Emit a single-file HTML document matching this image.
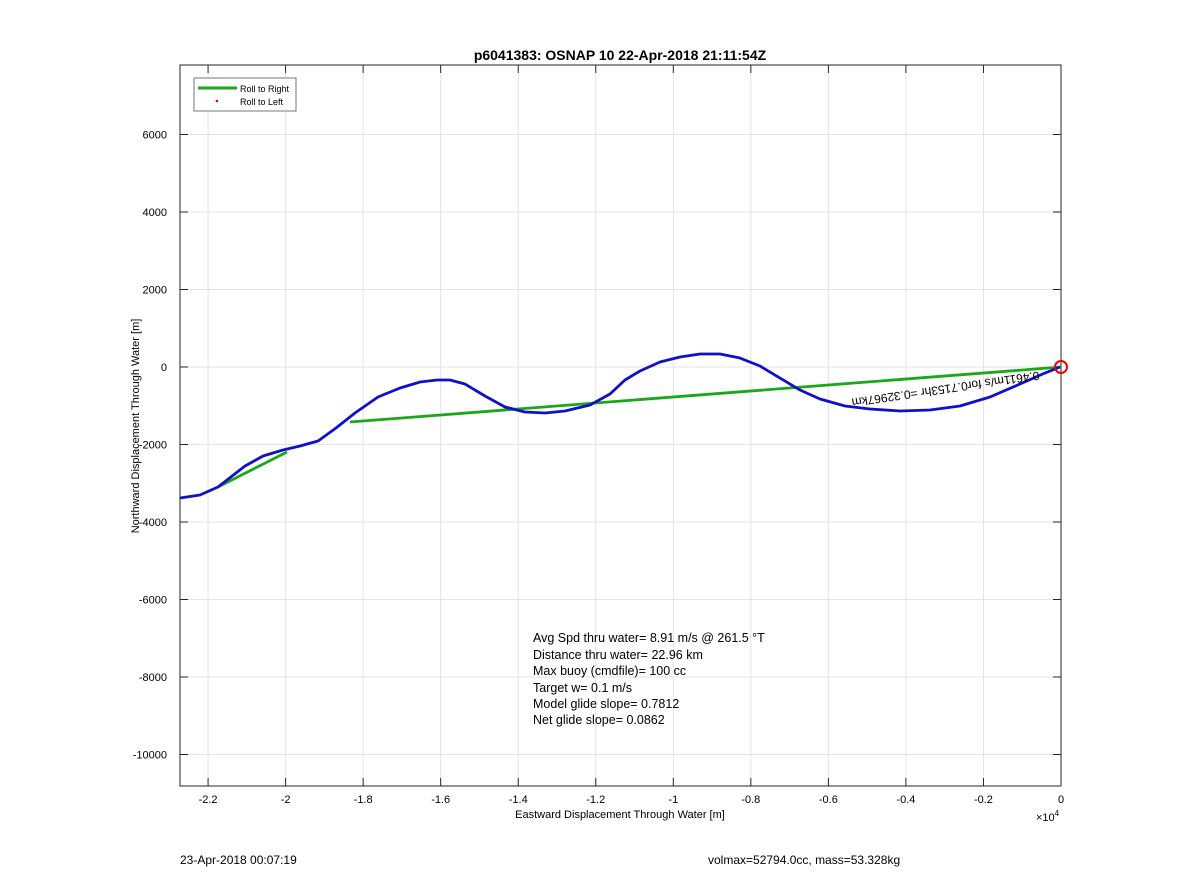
<!DOCTYPE html>
<html><head><meta charset="utf-8"><style>
body{margin:0;background:#fff;font-family:"Liberation Sans",Arial,sans-serif}
svg text{font-family:"Liberation Sans",Arial,sans-serif}
</style></head><body>
<svg id="chart" width="1200" height="885" xmlns="http://www.w3.org/2000/svg">
<rect width="1200" height="885" fill="#fff"/>
<g id="grid"></g>
<g id="axes"></g>
<g id="series"></g>
<text x="620" y="60" text-anchor="middle" font-size="14" font-weight="bold">p6041383: OSNAP 10 22-Apr-2018 21:11:54Z</text>
<text x="620" y="818" text-anchor="middle" font-size="11">Eastward Displacement Through Water [m]</text>
<text x="1036" y="821" font-size="11">×10<tspan dy="-5" font-size="8">4</tspan></text>
<text transform="translate(139,426) rotate(-90)" text-anchor="middle" font-size="11">Northward Displacement Through Water [m]</text>
<g font-size="12.5">
<text x="533" y="642">Avg Spd thru water=  8.91 m/s @ 261.5 °T</text>
<text x="533" y="659">Distance thru water= 22.96 km</text>
<text x="533" y="675">Max buoy (cmdfile)= 100 cc</text>
<text x="533" y="692">Target w= 0.1 m/s</text>
<text x="533" y="708">Model glide slope= 0.7812</text>
<text x="533" y="724">Net glide slope= 0.0862</text>
</g>
<text transform="translate(945,385) rotate(171.7)" text-anchor="middle" font-size="12">0.4611m/s for0.7153hr =0.32967km</text>
<circle cx="1061" cy="367" r="6" fill="none" stroke="#e00" stroke-width="2"/>
<g>
<rect x="194" y="78" width="102" height="33" fill="#fff" stroke="#555" stroke-width="0.8"/>
<line x1="198" y1="88" x2="237" y2="88" stroke="#1aa81a" stroke-width="3"/>
<text x="240" y="92" font-size="9">Roll to Right</text>
<circle cx="217" cy="101" r="1.3" fill="#e00"/>
<text x="240" y="105" font-size="9">Roll to Left</text>
</g>
<text x="180" y="864" font-size="12">23-Apr-2018 00:07:19</text>
<text x="708" y="864" font-size="12">volmax=52794.0cc, mass=53.328kg</text>
</svg>
<script>
const xTicks=[-22000,-20000,-18000,-16000,-14000,-12000,-10000,-8000,-6000,-4000,-2000,0];
const xTickLabels=["-2.2","-2","-1.8","-1.6","-1.4","-1.2","-1","-0.8","-0.6","-0.4","-0.2","0"];
const yTicks=[-10000,-8000,-6000,-4000,-2000,0,2000,4000,6000];
const blueX=[-22724,-22208,-21744,-21047,-20583,-20067,-19628,-19164,-18700,-18210,-17617,-17049,-16533,-16095,-15760,-15373,-14857,-14341,-13825,-13309,-12793,-12148,-11633,-11246,-10859,-10343,-9827,-9311,-8796,-8280,-7764,-7248,-6732,-6216,-5571,-4926,-4153,-3379,-2605,-1831,-1058,-413,-26];
const blueY=[-3381,-3303,-3097,-2555,-2297,-2142,-2039,-1910,-1574,-1187,-774,-542,-387,-335,-335,-439,-748,-1032,-1161,-1187,-1135,-981,-697,-335,-103,129,258,335,335,232,26,-284,-594,-826,-1006,-1084,-1135,-1110,-1006,-774,-439,-155,0];
const greenSeg1X=[-21744,-19964];
const greenSeg1Y=[-3097,-2193];
const greenSeg2X=[-18339,0];
const greenSeg2Y=[-1419,0];
const L=180,R=1061,T=65,B=786;
const xMin=-22724,xMax=0,yMin=-10813,yMax=7794;
const sx=v=>L+(v-xMin)/(xMax-xMin)*(R-L);
const sy=v=>B-(v-yMin)/(yMax-yMin)*(B-T);
const NS="http://www.w3.org/2000/svg";
function mk(tag,attrs,parent){const e=document.createElementNS(NS,tag);for(const k in attrs)e.setAttribute(k,attrs[k]);parent.appendChild(e);return e;}
const grid=document.getElementById('grid'),axes=document.getElementById('axes'),series=document.getElementById('series');
xTicks.forEach((t,i)=>{const x=sx(t);
 const g=mk('line',{x1:x,x2:x,y1:T,y2:B,stroke:'#e3e3e3','stroke-width':1},grid);
 
 
 mk('line',{x1:x,x2:x,y1:B,y2:B-8,stroke:'#262626'},axes);
 mk('line',{x1:x,x2:x,y1:T,y2:T+8,stroke:'#262626'},axes);
 const tx=mk('text',{x:x,y:B+17,'text-anchor':'middle','font-size':11},axes);tx.textContent=xTickLabels[i];
 
 
});
yTicks.forEach(t=>{const y=sy(t);
 const g=mk('line',{x1:L,x2:R,y1:y,y2:y,stroke:'#e3e3e3','stroke-width':1},grid);
 
 
 mk('line',{x1:L,x2:L+8,y1:y,y2:y,stroke:'#262626'},axes);
 mk('line',{x1:R,x2:R-8,y1:y,y2:y,stroke:'#262626'},axes);
 const tx=mk('text',{x:L-13,y:y+4,'text-anchor':'end','font-size':11},axes);tx.textContent=String(t);
 
 
});
mk('rect',{x:L,y:T,width:R-L,height:B-T,fill:'none',stroke:'#262626','stroke-width':1},axes);
function line(xs,ys,color,w,name){const p=mk('polyline',{points:xs.map((x,i)=>sx(x)+','+sy(ys[i])).join(' '),fill:'none',stroke:color,'stroke-width':w,'stroke-linejoin':'round'},series);
 
 }
line(greenSeg1X,greenSeg1Y,'#1aa81a',2.8,'roll-right-segment-1');
line(greenSeg2X,greenSeg2Y,'#1aa81a',2.8,'roll-right-segment-2');
line(blueX,blueY,'#1010c8',2.8,'displacement-track');
</script>
</body></html>
